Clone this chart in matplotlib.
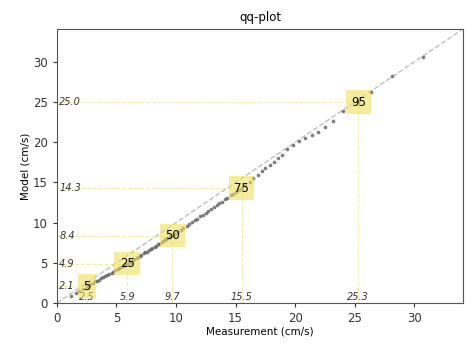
import numpy as np
import matplotlib
matplotlib.use('Agg')
import matplotlib.pyplot as plt

# quantiles (percentiles 1..98) of measurement and model
meas = [1.2, 1.6, 1.9, 2.2, 2.5,
        2.7, 2.8, 3.0, 3.2, 3.4, 3.5, 3.7, 3.9, 4.0, 4.2, 4.4, 4.6, 4.7, 4.9, 5.1, 5.2, 5.4, 5.6, 5.7, 5.9,
        6.1, 6.2, 6.4, 6.5, 6.7, 6.8, 7.0, 7.1, 7.3, 7.4, 7.6, 7.7, 7.9, 8.0, 8.2, 8.3, 8.5, 8.6, 8.8, 8.9,
        9.1, 9.2, 9.4, 9.5, 9.7,
        9.9, 10.2, 10.4, 10.6, 10.9, 11.1, 11.3, 11.6, 11.8, 12.0, 12.3, 12.5, 12.7, 12.9, 13.2, 13.4, 13.6,
        13.9, 14.1, 14.3, 14.6, 14.8, 15.0, 15.3, 15.5,
        15.8, 16.2, 16.5, 16.9, 17.2, 17.5, 17.9, 18.2, 18.6,
        18.9, 19.3, 19.8, 20.3, 20.8, 21.4, 21.9, 22.5, 23.2, 24.0, 25.3, 26.4, 28.1, 30.7]
model = [0.9, 1.2, 1.5, 1.8, 2.1,
         2.2, 2.4, 2.5, 2.7, 2.8, 2.9, 3.1, 3.2, 3.4, 3.5, 3.6, 3.8, 3.9, 4.1, 4.2, 4.4, 4.5, 4.6, 4.8, 4.9,
         5.0, 5.2, 5.3, 5.5, 5.6, 5.7, 5.9, 6.0, 6.2, 6.3, 6.4, 6.6, 6.7, 6.9, 7.0, 7.1, 7.3, 7.4, 7.6, 7.7,
         7.8, 8.0, 8.1, 8.3, 8.4,
         8.6, 8.9, 9.1, 9.3, 9.6, 9.8, 10.1, 10.3, 10.5, 10.8, 11.0, 11.2, 11.5, 11.7, 11.9, 12.2, 12.4, 12.6,
         12.9, 13.1, 13.4, 13.6, 13.8, 14.1, 14.3,
         14.7, 15.1, 15.5, 15.9, 16.4, 16.8, 17.2, 17.6, 18.0,
         18.4, 19.1, 19.7, 20.1, 20.5, 20.9, 21.3, 21.9, 22.7, 23.9, 25.0, 26.3, 28.2, 30.6]

# highlighted percentiles
pct_labels = ['5', '25', '50', '75', '95']
pct_meas = [2.5, 5.9, 9.7, 15.5, 25.3]
pct_model = [2.1, 4.9, 8.4, 14.3, 25.0]

lim = 34.1

fig = plt.figure(figsize=(4.66, 3.44), dpi=100)
ax = fig.add_axes([0.122, 0.119, 0.872, 0.797])

ax.plot([0, lim], [0, lim], '--', color='gray', alpha=0.5, lw=1)
ax.scatter(meas, model, s=7, color='dimgray', alpha=0.85, zorder=3, lw=0)

for lab, mx, my in zip(pct_labels, pct_meas, pct_model):
    ax.plot([0, mx], [my, my], '--', color='#ece890', alpha=0.7, lw=0.8)
    ax.plot([mx, mx], [0, my], '--', color='#ece890', alpha=0.7, lw=0.8)
    ax.text(mx, my, lab, ha='center', va='center', fontsize=8.5, zorder=5,
            bbox=dict(boxstyle='square,pad=0.45', fc='#f0e060', ec='none', alpha=0.6))
    ax.text(0.2, my, '%.1f' % my, ha='left', va='center', fontsize=7, style='italic', color='#333333')
    ax.text(mx, 0.15, '%.1f' % mx, ha='center', va='bottom', fontsize=7, style='italic', color='#333333')

ax.set_xlim(0, lim)
ax.set_ylim(0, lim)
ax.set_xticks([0, 5, 10, 15, 20, 25, 30])
ax.set_yticks([0, 5, 10, 15, 20, 25, 30])
ax.tick_params(labelsize=8.5, length=3, colors='#333333')
for s in ax.spines.values():
    s.set_color('#555555')
ax.set_title('qq-plot', fontsize=8.5)
ax.set_xlabel('Measurement (cm/s)', fontsize=7.5, labelpad=1)
ax.set_ylabel('Model (cm/s)', fontsize=7.5, labelpad=2)

fig.savefig('out.png', dpi=100)
